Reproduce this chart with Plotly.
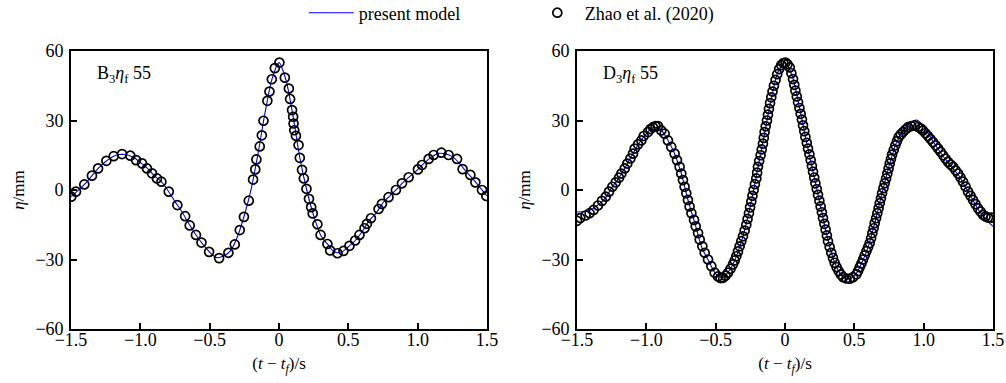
import plotly.graph_objects as go
from plotly.subplots import make_subplots

# ---------------- data ----------------
# B3 eta_f 55 : measured (Zhao et al. 2020)
b3_exp_t = [-1.498, -1.464, -1.404, -1.349, -1.305, -1.245, -1.192, -1.132, -1.072, -1.031,
            -0.988, -0.952, -0.916, -0.880, -0.848, -0.795, -0.733, -0.677, -0.644, -0.599,
            -0.559, -0.504, -0.432, -0.365, -0.319, -0.283, -0.253, -0.218, -0.187, -0.171,
            -0.163, -0.139, -0.124, -0.112, -0.084, -0.069, -0.052, -0.030, 0.003, 0.042,
            0.071, 0.080, 0.094, 0.102, 0.105, 0.110, 0.122, 0.141, 0.150, 0.166,
            0.179, 0.198, 0.216, 0.232, 0.243, 0.277, 0.300, 0.349, 0.369, 0.422,
            0.465, 0.508, 0.549, 0.580, 0.617, 0.634, 0.663, 0.718, 0.742, 0.790,
            0.843, 0.887, 0.935, 1.002, 1.031, 1.079, 1.115, 1.171, 1.223, 1.284,
            1.324, 1.380, 1.416, 1.464, 1.495]
b3_exp_eta = [-2.9, -0.7, 2.4, 6.2, 9.3, 12.6, 14.6, 15.5, 14.8, 12.9,
              11.5, 9.3, 7.2, 5.0, 3.6, -0.7, -6.5, -11.3, -15.3, -19.4,
              -22.7, -26.7, -29.4, -27.1, -23.5, -17.3, -11.6, -4.6, 4.5, 8.9,
              13.2, 18.8, 23.6, 29.9, 38.5, 42.5, 47.8, 52.6, 55.0, 48.5,
              43.8, 39.3, 34.5, 31.6, 28.7, 25.8, 23.4, 19.4, 13.9, 8.7,
              5.0, 0.5, -3.8, -7.4, -10.1, -14.8, -19.4, -23.3, -26.1, -27.3,
              -26.3, -24.1, -21.8, -19.4, -16.5, -14.6, -12.2, -8.2, -6.0, -3.1,
              0.0, 2.9, 5.5, 8.9, 10.8, 13.4, 15.1, 16.1, 15.1, 13.4,
              9.0, 6.5, 3.3, 0.0, -2.6]

# B3 eta_f 55 : present model
model_t = [-1.50, -1.45, -1.40, -1.35, -1.30, -1.25, -1.20, -1.15, -1.10, -1.05,
           -1.00, -0.95, -0.90, -0.85, -0.80, -0.75, -0.70, -0.65, -0.60, -0.55,
           -0.50, -0.45, -0.40, -0.35, -0.30, -0.25, -0.20, -0.15, -0.10, -0.05,
           0.00, 0.05, 0.10, 0.15, 0.20, 0.25, 0.30, 0.35, 0.40, 0.45,
           0.50, 0.55, 0.60, 0.65, 0.70, 0.75, 0.80, 0.85, 0.90, 0.95,
           1.00, 1.05, 1.10, 1.15, 1.20, 1.25, 1.30, 1.35, 1.40, 1.45, 1.50]
b3_model_eta = [-2.9, -0.3, 2.6, 6.1, 9.6, 12.3, 14.4, 15.3, 15.2, 14.1,
                11.9, 9.4, 6.2, 3.7, -0.3, -5.0, -9.4, -14.6, -19.3, -23.4,
                -26.9, -29.2, -28.5, -26.3, -20.2, -10.9, 0.6, 16.2, 33.6, 48.0,
                55.0, 47.5, 32.3, 14.0, 0.0, -11.1, -19.4, -23.4, -26.8, -26.8,
                -24.5, -21.8, -17.9, -13.2, -10.0, -5.5, -2.5, 0.4, 3.6, 6.2,
                8.8, 11.8, 14.2, 15.8, 15.6, 14.4, 11.6, 7.9, 4.7, 1.0, -2.6]

# D3 eta_f 55 : measured (Zhao et al. 2020)
d3_exp_t = [-1.500, -1.476, -1.438, -1.409, -1.380, -1.349, -1.320, -1.293, -1.269, -1.245,
            -1.221, -1.197, -1.180, -1.156, -1.137, -1.115, -1.096, -1.084, -1.060, -1.036,
            -1.019, -0.988, -0.970, -0.952, -0.934, -0.916, -0.892, -0.868, -0.844, -0.820,
            -0.796, -0.779, -0.760, -0.748, -0.736, -0.724, -0.712, -0.700, -0.688, -0.675,
            -0.656, -0.644, -0.627, -0.615, -0.596, -0.579, -0.555, -0.531, -0.507, -0.483,
            -0.465, -0.447, -0.429, -0.411, -0.393, -0.375, -0.363, -0.351, -0.339, -0.327,
            -0.315, -0.303, -0.291, -0.279, -0.270, -0.260, -0.252, -0.243, -0.235, -0.226,
            -0.217, -0.207, -0.201, -0.195, -0.186, -0.176, -0.168, -0.159, -0.153, -0.147,
            -0.139, -0.130, -0.123, -0.116, -0.108, -0.099, -0.090, -0.080, -0.068, -0.056,
            -0.042, -0.027, -0.012, 0.003, 0.018, 0.034, 0.046, 0.058, 0.067, 0.075,
            0.085, 0.094, 0.104, 0.113, 0.122, 0.130, 0.139, 0.147, 0.157, 0.166,
            0.176, 0.185, 0.194, 0.202, 0.211, 0.219, 0.229, 0.238, 0.248, 0.257,
            0.266, 0.274, 0.284, 0.293, 0.302, 0.310, 0.322, 0.334, 0.346, 0.358,
            0.372, 0.387, 0.403, 0.419, 0.443, 0.467, 0.491, 0.515, 0.527, 0.539,
            0.551, 0.563, 0.575, 0.587, 0.599, 0.611, 0.621, 0.630, 0.639, 0.647,
            0.657, 0.666, 0.675, 0.683, 0.692, 0.700, 0.710, 0.719, 0.729, 0.738,
            0.747, 0.755, 0.764, 0.772, 0.784, 0.796, 0.808, 0.820, 0.835, 0.851,
            0.869, 0.887, 0.911, 0.935, 0.960, 0.980, 0.995, 1.013, 1.031, 1.049,
            1.067, 1.086, 1.104, 1.122, 1.140, 1.158, 1.176, 1.194, 1.212, 1.230,
            1.248, 1.266, 1.284, 1.302, 1.320, 1.338, 1.356, 1.374, 1.392, 1.410,
            1.428, 1.446, 1.464, 1.488]
d3_exp_eta = [-13.3, -12.1, -11.0, -10.0, -8.6, -6.7, -4.7, -2.9, -0.7, 1.4,
              3.3, 5.3, 7.1, 9.3, 11.4, 13.6, 15.7, 17.9, 19.7, 21.4,
              23.3, 25.0, 26.3, 27.1, 27.6, 27.6, 25.7, 24.3, 21.4, 18.6,
              15.7, 12.9, 10.0, 7.1, 4.3, 1.4, -1.4, -4.3, -7.1, -10.0,
              -12.9, -15.7, -18.6, -21.4, -24.3, -27.1, -30.0, -32.9, -35.7, -37.3,
              -38.0, -37.9, -37.0, -35.7, -34.0, -32.1, -30.4, -28.6, -26.5, -24.3,
              -22.1, -20.0, -17.5, -15.0, -12.5, -10.0, -7.5, -5.0, -2.5, 0.0,
              2.5, 5.0, 7.5, 10.0, 12.5, 15.0, 17.5, 20.0, 22.5, 25.0,
              27.5, 30.0, 32.5, 35.0, 37.5, 40.0, 42.5, 45.0, 47.5, 50.0,
              52.2, 53.9, 54.8, 55.0, 54.3, 52.9, 50.4, 47.9, 45.4, 42.9,
              40.4, 37.9, 35.4, 32.9, 30.4, 27.9, 25.4, 22.9, 20.4, 17.9,
              15.4, 12.9, 10.4, 7.9, 5.4, 2.9, 0.4, -2.1, -4.6, -7.1,
              -9.6, -12.1, -14.6, -17.1, -19.6, -22.1, -24.6, -27.1, -29.3, -31.4,
              -33.3, -35.0, -36.5, -37.6, -38.2, -38.3, -37.6, -36.4, -35.0, -33.3,
              -31.7, -30.0, -28.2, -26.4, -24.7, -22.9, -20.8, -18.6, -16.5, -14.3,
              -12.2, -10.0, -7.9, -5.7, -3.6, -1.4, 0.8, 2.9, 5.0, 7.1,
              9.3, 11.4, 13.4, 15.3, 17.3, 19.3, 21.1, 22.9, 24.0, 25.0,
              26.1, 27.1, 27.6, 27.9, 27.2, 26.5, 25.7, 24.5, 23.3, 22.0,
              20.7, 19.3, 17.9, 16.5, 15.0, 13.5, 12.1, 11.0, 10.0, 8.5,
              7.1, 5.4, 3.6, 1.5, -0.7, -2.5, -4.3, -6.1, -7.9, -9.3,
              -10.7, -11.4, -11.9, -11.9]

# D3 eta_f 55 : present model
d3_model_eta = [-9.5, -9.3, -8.5, -6.5, -3.8, 1.0, 5.0, 10.0, 15.3, 20.4,
                24.3, 27.0, 26.3, 22.1, 16.2, 7.6, -4.3, -14.3, -24.8, -30.6,
                -36.2, -37.9, -34.6, -28.6, -19.3, -7.0, 8.0, 23.5, 39.0, 51.0,
                55.0, 49.5, 36.9, 22.1, 8.4, -5.2, -19.1, -30.0, -36.2, -38.3,
                -37.2, -31.9, -24.5, -13.7, -1.4, 10.2, 19.9, 25.5, 28.8, 30.2,
                27.5, 22.8, 18.0, 13.8, 10.0, 6.5, 1.5, -3.8, -9.0, -12.8, -15.7]

x_ticks = [-1.5, -1.0, -0.5, 0, 0.5, 1.0, 1.5]
x_tick_text = ["\u22121.5", "\u22121.0", "\u22120.5", "0", "0.5", "1.0", "1.5"]
y_ticks = [-60, -30, 0, 30, 60]
y_tick_text = ["\u221260", "\u221230", "0", "30", "60"]
panel_labels = ["B<sub>3</sub><i>\u03b7</i><sub>f</sub> 55", "D<sub>3</sub><i>\u03b7</i><sub>f</sub> 55"]

# ---------------- figure ----------------
FONT = "Liberation Serif, Times New Roman, serif"
fig = make_subplots(rows=1, cols=2, horizontal_spacing=0.0976)

series = [(b3_model_eta, b3_exp_t, b3_exp_eta), (d3_model_eta, d3_exp_t, d3_exp_eta)]
for i, (m_eta, e_t, e_eta) in enumerate(series):
    col = i + 1
    fig.add_trace(go.Scatter(x=model_t, y=m_eta, mode="lines", name="present model",
                             line=dict(color="#0000ff", width=1.1, shape="spline", smoothing=0.8),
                             showlegend=(i == 0), legendrank=1), row=1, col=col)
    fig.add_trace(go.Scatter(x=e_t, y=e_eta, mode="markers", name="Zhao et al. (2020)",
                             marker=dict(symbol="circle-open", size=9, color="black",
                                         line=dict(width=1.7, color="black")),
                             showlegend=(i == 0), legendrank=2), row=1, col=col)

axis_common = dict(showline=True, linecolor="black", linewidth=1.7, mirror=True,
                   ticks="inside", ticklen=6, tickwidth=1.5, tickcolor="black",
                   showgrid=False, zeroline=False,
                   tickfont=dict(family=FONT, size=18, color="black"))

for col in (1, 2):
    fig.update_xaxes(range=[-1.5, 1.5], tickvals=x_ticks, ticktext=x_tick_text,
                     ticklabelstandoff=-6,
                     title=dict(text="(<i>t</i> \u2212 <i>t</i><sub><i>f</i></sub>)/s",
                                font=dict(family=FONT, size=17, color="black"), standoff=8),
                     row=1, col=col, **axis_common)
    fig.update_yaxes(range=[-60, 60], tickvals=y_ticks, ticktext=y_tick_text,
                     ticklabelstandoff=2,
                     title=dict(text="<i>\u03b7</i>/mm",
                                font=dict(family=FONT, size=17, color="black"), standoff=6),
                     row=1, col=col, **axis_common)

for i, txt in enumerate(panel_labels):
    xref = "x domain" if i == 0 else "x2 domain"
    yref = "y domain" if i == 0 else "y2 domain"
    fig.add_annotation(text=txt, xref=xref, yref=yref, x=0.057, y=0.915,
                       xanchor="left", yanchor="middle", showarrow=False,
                       font=dict(family=FONT, size=18, color="black"))

fig.update_layout(
    width=1006, height=383,
    margin=dict(l=71, r=13, t=51, b=54, autoexpand=False),
    paper_bgcolor="white", plot_bgcolor="white",
    font=dict(family=FONT, color="black"),
    showlegend=True,
    legend=dict(orientation="h", xref="container", x=0.302, xanchor="left",
                yref="container", y=0.966, yanchor="middle",
                font=dict(family=FONT, size=18, color="black"),
                itemwidth=45, entrywidth=166, tracegroupgap=0, bgcolor="rgba(0,0,0,0)"),
)

fig.write_html("out.html")
